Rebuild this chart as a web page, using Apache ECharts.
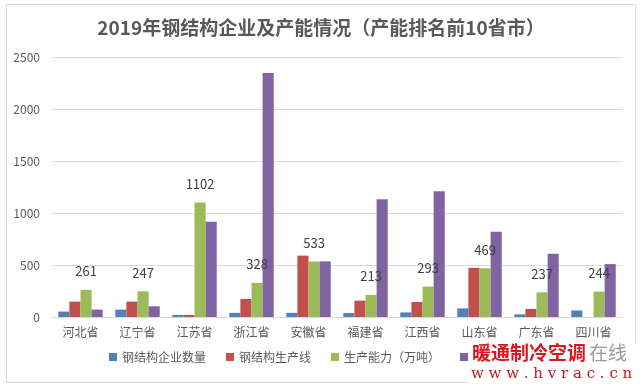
<!DOCTYPE html>
<html><head><meta charset="utf-8">
<script src="https://cdn.jsdelivr.net/npm/echarts@6/dist/echarts.min.js"></script>
<style>html,body{margin:0;padding:0;background:#fff}#c{width:642px;height:389px}</style>
</head><body><div id="c"></div>
<script>
const categories = ['河北省','辽宁省','江苏省','浙江省','安徽省','福建省','江西省','山东省','广东省','四川省'];
const seriesNames = ['钢结构企业数量','钢结构生产线','生产能力（万吨）','应用量（万吨）'];
const companies = [52, 71, 20, 40, 40, 38, 44, 83, 25, 63];
const lines = [148, 148, 20, 173, 590, 157, 144, 473, 77, 0];
const capacity = [261, 247, 1102, 328, 533, 213, 293, 469, 237, 244];
const usage = [71, 103, 917, 2346, 535, 1133, 1210, 819, 608, 509];
const yTicks = [0, 500, 1000, 1500, 2000, 2500];
const colors = ['#4f81bd','#c0504d','#9bbb59','#8064a2'];

const font = '"Noto Sans CJK SC","Noto Sans",sans-serif';
const chart = echarts.init(document.getElementById('c'));
const values = [companies, lines, capacity, usage];
chart.setOption({
  animation: false,
  color: colors,
  title: {
    text: '2019年钢结构企业及产能情况（产能排名前10省市）',
    left: 'center', top: 13,
    textStyle: {fontSize: 19, fontWeight: 'bold', color: '#595959', fontFamily: font}
  },
  legend: {
    bottom: 21, left: 104, itemWidth: 8, itemHeight: 8, itemGap: 20,
    icon: 'rect',
    textStyle: {fontSize: 12, color: '#595959', fontFamily: font},
    data: seriesNames
  },
  grid: {left: 52, right: 20, top: 57, bottom: 72},
  xAxis: {
    type: 'category', data: categories,
    axisLine: {lineStyle: {color: '#d9d9d9'}},
    axisTick: {show: false},
    axisLabel: {fontSize: 12, color: '#595959', fontFamily: font, margin: 9}
  },
  yAxis: {
    type: 'value', min: yTicks[0], max: yTicks[yTicks.length-1], interval: 500,
    axisLine: {show: false}, axisTick: {show: false},
    axisLabel: {fontSize: 12, color: '#595959', fontFamily: font, margin: 12, formatter: v => String(v)},
    splitLine: {lineStyle: {color: '#d9d9d9'}}
  },
  series: seriesNames.map((n, i) => ({
    name: n, type: 'bar', data: values[i],
    barGap: '0%', barCategoryGap: '22%',
    label: i === 2 ? {show: true, position: 'top', distance: 12, fontSize: 13, color: '#404040', fontFamily: font} : {show: false}
  })),
  graphic: [
    {type: 'rect', shape: {x: 6.5, y: 4.5, width: 629, height: 378}, style: {fill: 'none', stroke: '#d9d9d9', lineWidth: 1}, silent: true},
    {type: 'rect', shape: {x: 468, y: 343, width: 168, height: 46}, style: {fill: '#fff'}, z: 100},
    {type: 'text', x: 472, y: 343, z: 101, style: {text: '暖通制冷空调', fontSize: 19, fontWeight: 'bold', fill: '#e0141e', fontFamily: font}},
    {type: 'text', x: 589, y: 343, z: 101, style: {text: '在线', fontSize: 19, fill: '#9a9a9a', fontFamily: font}},
    {type: 'text', x: 471, y: 367, z: 101, style: {text: 'w w w . h v r a c . c n', fontSize: 15, fill: '#c01820', fontFamily: '"DejaVu Serif",serif'}}
  ]
});
</script></body></html>
